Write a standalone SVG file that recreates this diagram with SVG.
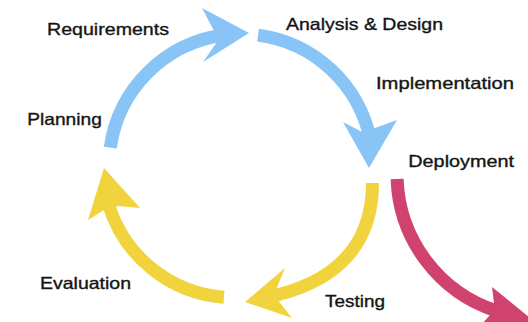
<svg xmlns="http://www.w3.org/2000/svg" width="528" height="322" viewBox="0 0 528 322">
<style>
.lbl{font-family:"Liberation Sans",Arial,Helvetica,sans-serif;font-size:16.5px;fill:#151515;stroke:#151515;stroke-width:0.35px;lengthAdjust:spacingAndGlyphs}
.shaft{fill:none;stroke-width:13;stroke-linecap:butt}
.blue{stroke:#88c4f5}
.blueF{fill:#88c4f5}
.yel{stroke:#f1d43d}
.yelF{fill:#f1d43d}
.mag{stroke:#d0436f}
.magF{fill:#d0436f}
</style>
<rect width="528" height="322" fill="#ffffff"/>
<g id="connectors">
  <g id="arrow-requirements">
    <path class="shaft blue" d="M110.3,147.6 A132,132 0 0 1 222.6,35.3"/>
    <polygon class="blueF" points="202,8 249,33 203,62 216.3,43 213.7,30.2"/>
  </g>
  <g id="arrow-analysis">
    <path class="shaft blue" d="M258,35.1 A132,132 0 0 1 370.1,138.6"/>
    <polygon class="blueF" points="343,122 369,168 397,120 374.3,128.2 361.7,131.8"/>
  </g>
  <g id="arrow-testing">
    <path class="shaft yel" d="M372.5,183 C372.5,253 326.7,284.8 268,297"/>
    <polygon class="yelF" points="285,268 245,302 292,318 279.1,301.4 276.5,288.6"/>
  </g>
  <g id="arrow-evaluation">
    <path class="shaft yel" d="M224,297.2 A131,131 0 0 1 108.7,204.9"/>
    <polygon class="yelF" points="104,168 140,208 118.5,206 105.5,209 88,220"/>
  </g>
  <g id="arrow-deployment">
    <path class="shaft mag" d="M397.1,179 A144,144 0 0 0 496.5,311"/>
    <polygon class="magF" points="492,287 545,330 470,338 489.5,315.4 494,303"/>
  </g>
</g>
<g id="node-requirements"><text class="lbl" x="47" y="35" textLength="122" lengthAdjust="spacingAndGlyphs">Requirements</text></g>
<g id="node-analysis"><text class="lbl" x="286" y="29.5" textLength="157" lengthAdjust="spacingAndGlyphs">Analysis &amp; Design</text></g>
<g id="node-implementation"><text class="lbl" x="376" y="89" textLength="138" lengthAdjust="spacingAndGlyphs">Implementation</text></g>
<g id="node-planning"><text class="lbl" x="27.3" y="125" textLength="74.5" lengthAdjust="spacingAndGlyphs">Planning</text></g>
<g id="node-deployment"><text class="lbl" x="408.3" y="166.7" textLength="105.7" lengthAdjust="spacingAndGlyphs">Deployment</text></g>
<g id="node-evaluation"><text class="lbl" x="40" y="289" textLength="91" lengthAdjust="spacingAndGlyphs">Evaluation</text></g>
<g id="node-testing"><text class="lbl" x="325" y="306.7" textLength="60" lengthAdjust="spacingAndGlyphs">Testing</text></g>
</svg>
